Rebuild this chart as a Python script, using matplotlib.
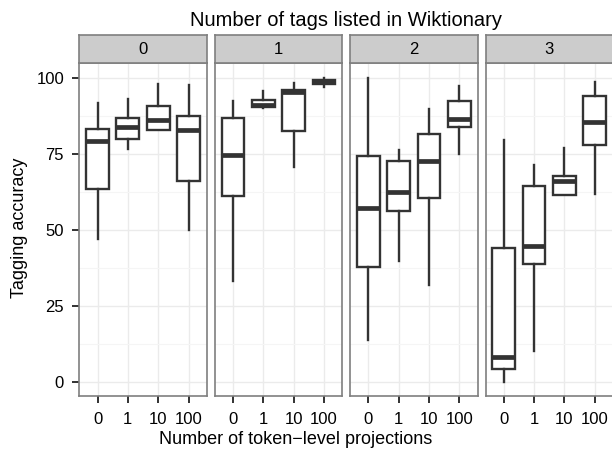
import matplotlib
matplotlib.use("Agg")
import matplotlib.pyplot as plt
import numpy as np

plt.rcParams['font.family'] = ['Liberation Sans', 'DejaVu Sans']

# x categories inside each facet and the facet labels
projections = ['0', '1', '10', '100']
tag_counts = ['0', '1', '2', '3']

# box statistics per facet, one value per projection category
whis_lo = [
    [47.0, 76.6, 82.9, 50.1],
    [33.4, 90.2, 70.7, 97.0],
    [13.9, 39.7, 32.0, 75.1],
    [0.2, 10.3, 61.4, 61.8],
]
q1 = [
    [63.6, 79.9, 82.9, 66.2],
    [61.1, 90.4, 82.7, 98.0],
    [37.8, 56.1, 60.5, 83.7],
    [4.3, 38.7, 61.4, 77.9],
]
median = [
    [79.1, 83.9, 86.1, 83.0],
    [74.5, 91.0, 95.5, 98.8],
    [57.2, 62.5, 72.7, 86.5],
    [8.4, 44.8, 66.0, 85.4],
]
q3 = [
    [83.3, 86.8, 90.9, 87.5],
    [86.8, 92.9, 96.0, 99.4],
    [74.2, 72.8, 81.6, 92.3],
    [44.1, 64.4, 67.7, 94.2],
]
whis_hi = [
    [91.8, 93.2, 98.0, 97.8],
    [92.3, 95.8, 98.4, 100.0],
    [100.0, 76.2, 89.8, 97.3],
    [79.7, 71.3, 76.8, 98.6],
]

W, H = 612, 449
fig = plt.figure(figsize=(W / 100, H / 100), dpi=100)

box_col = '#333333'
border = '#7F7F7F'
p_left0, p_w, p_step = 79.3, 127.5, 135.4
p_top, p_bot = 63.0, 395.5
s_top = 35.0

for i, tc in enumerate(tag_counts):
    left = p_left0 + i * p_step
    ax = fig.add_axes([left / W, 1 - p_bot / H, p_w / W, (p_bot - p_top) / H])
    stats = []
    for j, lab in enumerate(projections):
        stats.append(dict(whislo=whis_lo[i][j], q1=q1[i][j], med=median[i][j],
                          q3=q3[i][j], whishi=whis_hi[i][j], fliers=[], label=lab))
    ax.bxp(stats, positions=np.arange(1, 5), widths=0.75, showcaps=False,
           patch_artist=True,
           boxprops=dict(facecolor='white', edgecolor=box_col, linewidth=1.7),
           whiskerprops=dict(color=box_col, linewidth=1.7),
           medianprops=dict(color=box_col, linewidth=3.4, solid_capstyle='butt'))
    ax.set_xlim(0.4, 4.6)
    ax.set_ylim(-4.4, 104.9)
    ax.set_yticks([0, 25, 50, 75, 100])
    ax.set_yticks([12.5, 37.5, 62.5, 87.5], minor=True)
    ax.grid(True, which='major', color='#EBEBEB', linewidth=1.0)
    ax.grid(True, which='minor', axis='y', color='#F5F5F5', linewidth=0.8)
    ax.set_axisbelow(True)
    for sp in ax.spines.values():
        sp.set_color(border)
        sp.set_linewidth(1.2)
    ax.tick_params(axis='both', which='major', length=5, width=1.3, color='#222222',
                   labelsize=12, labelcolor='black')
    ax.tick_params(axis='x', which='major', pad=7)
    ax.tick_params(axis='y', which='major', pad=6)
    ax.tick_params(axis='y', which='minor', length=0)
    ax.set_xticks(np.arange(1, 5))
    ax.set_xticklabels(projections)
    if i > 0:
        ax.tick_params(axis='y', which='major', length=0, labelleft=False)

    sax = fig.add_axes([left / W, 1 - p_top / H, p_w / W, (p_top - s_top) / H])
    sax.set_facecolor('#CCCCCC')
    sax.set_xticks([])
    sax.set_yticks([])
    for sp in sax.spines.values():
        sp.set_color(border)
        sp.set_linewidth(1.2)
    sax.text(0.5, 0.47, tc, ha='center', va='center', fontsize=12, transform=sax.transAxes)

fig.text(346 / W, 1 - 21 / H, 'Number of tags listed in Wiktionary', ha='center', va='center',
         fontsize=14.5)
fig.text(296 / W, 1 - 439.5 / H, 'Number of token\u2212level projections', ha='center', va='center',
         fontsize=13)
fig.text(20 / W, 1 - 228 / H, 'Tagging accuracy', ha='center', va='center', rotation=90,
         fontsize=13)

fig.savefig('out.png', dpi=100)
